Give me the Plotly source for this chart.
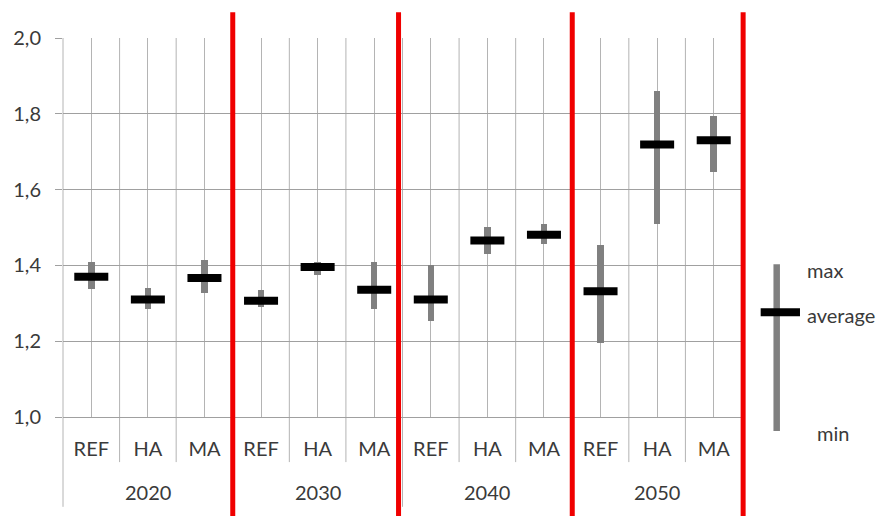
import plotly.graph_objects as go

# ---- data -------------------------------------------------------------
years = ["2020", "2030", "2040", "2050"]
scenarios = ["REF", "HA", "MA"]
tick_labels = scenarios * len(years)

avg_vals = [1.370, 1.310, 1.367, 1.307, 1.396, 1.336, 1.310, 1.466, 1.481, 1.332, 1.719, 1.730]
max_vals = [1.410, 1.341, 1.415, 1.334, 1.410, 1.409, 1.402, 1.501, 1.508, 1.453, 1.860, 1.794]
min_vals = [1.339, 1.286, 1.327, 1.290, 1.376, 1.286, 1.253, 1.429, 1.456, 1.194, 1.510, 1.646]

legend_labels = ["max", "average", "min"]

# ---- styling / layout constants --------------------------------------
FONT = "Lato"
TXT = "#3a3a3a"
GRID_H = "#a0a0a0"
GRID_V = "#b4b4b4"
RED = "#f00000"
n_cat = len(tick_labels)
xs = list(range(n_cat))
x_lo, x_hi = -0.5, n_cat - 0.5


def to_paper(cat_pos):
    """category-axis coordinate -> paper fraction"""
    return (cat_pos - x_lo) / (x_hi - x_lo)


fig = go.Figure()

# min-max range bars
fig.add_trace(go.Bar(
    x=xs,
    y=[mx - mn for mx, mn in zip(max_vals, min_vals)],
    base=min_vals,
    width=0.115,
    marker=dict(color="#808080", line=dict(width=0)),
    hoverinfo="skip",
    showlegend=False,
))

# average markers
fig.add_trace(go.Scatter(
    x=xs,
    y=avg_vals,
    mode="markers",
    marker=dict(symbol="line-ew", size=24.3, color="black",
                line=dict(width=8, color="black")),
    showlegend=False,
))

shapes = []
# category boundary lines (plot area + extension into the label area)
for k in range(n_cat + 1):
    outer = (k % len(scenarios) == 0)
    shapes.append(dict(
        type="line", xref="paper", yref="paper",
        x0=to_paper(k - 0.5), x1=to_paper(k - 0.5),
        y0=1.0, y1=-0.237 if outer else -0.119,
        line=dict(color=GRID_V, width=1), layer="below",
    ))

# red separators between the decades
red_pos = [2.5, 5.43, 8.5, 11.52]
for p in red_pos:
    shapes.append(dict(
        type="line", xref="paper", yref="paper",
        x0=to_paper(p), x1=to_paper(p), y0=-0.35, y1=1.068,
        line=dict(color=RED, width=5), layer="above",
    ))

# legend key
shapes.append(dict(type="line", xref="paper", yref="paper",
                   x0=1.0511, x1=1.0511, y0=-0.037, y1=0.403,
                   line=dict(color="#808080", width=6.5)))
shapes.append(dict(type="line", xref="paper", yref="paper",
                   x0=1.0275, x1=1.0854, y0=0.2762, y1=0.2762,
                   line=dict(color="black", width=8)))

annotations = []
# decade labels
for i, yr in enumerate(years):
    annotations.append(dict(
        x=i * len(scenarios) + 1, xref="x", y=-0.198, yref="paper",
        text=yr, showarrow=False, xanchor="center", yanchor="middle",
        font=dict(family=FONT, size=20, color=TXT),
    ))

# legend texts
legend_pos = [(1.0926, 0.387), (1.0926, 0.268), (1.1073, -0.043)]
for lab, (lx, ly) in zip(legend_labels, legend_pos):
    annotations.append(dict(
        x=lx, y=ly, xref="paper", yref="paper", text=lab,
        showarrow=False, xanchor="left", yanchor="middle",
        font=dict(family=FONT, size=20, color=TXT),
    ))

fig.update_layout(
    width=878, height=516,
    margin=dict(l=63, r=136, t=38, b=99, pad=0),
    paper_bgcolor="white",
    plot_bgcolor="rgba(0,0,0,0)",
    separators=",.",
    bargap=0,
    shapes=shapes,
    annotations=annotations,
    showlegend=False,
    font=dict(family=FONT, color=TXT),
    xaxis=dict(
        range=[x_lo, x_hi],
        tickmode="array", tickvals=xs, ticktext=tick_labels,
        showgrid=True, gridcolor=GRID_V, gridwidth=1,
        ticks="", showline=True, linecolor=GRID_H, linewidth=1,
        zeroline=False, ticklabelstandoff=14,
        tickfont=dict(family=FONT, size=20, color=TXT),
        fixedrange=True,
    ),
    yaxis=dict(
        range=[1.0, 2.0], tick0=1.0, dtick=0.2, tickformat=".1f",
        showgrid=True, gridcolor=GRID_H, gridwidth=1,
        ticks="outside", ticklen=7, tickcolor=GRID_H,
        showline=False, zeroline=False, ticklabelstandoff=10,
        tickfont=dict(family=FONT, size=20, color=TXT),
        fixedrange=True,
    ),
)

fig.write_html("out.html")
